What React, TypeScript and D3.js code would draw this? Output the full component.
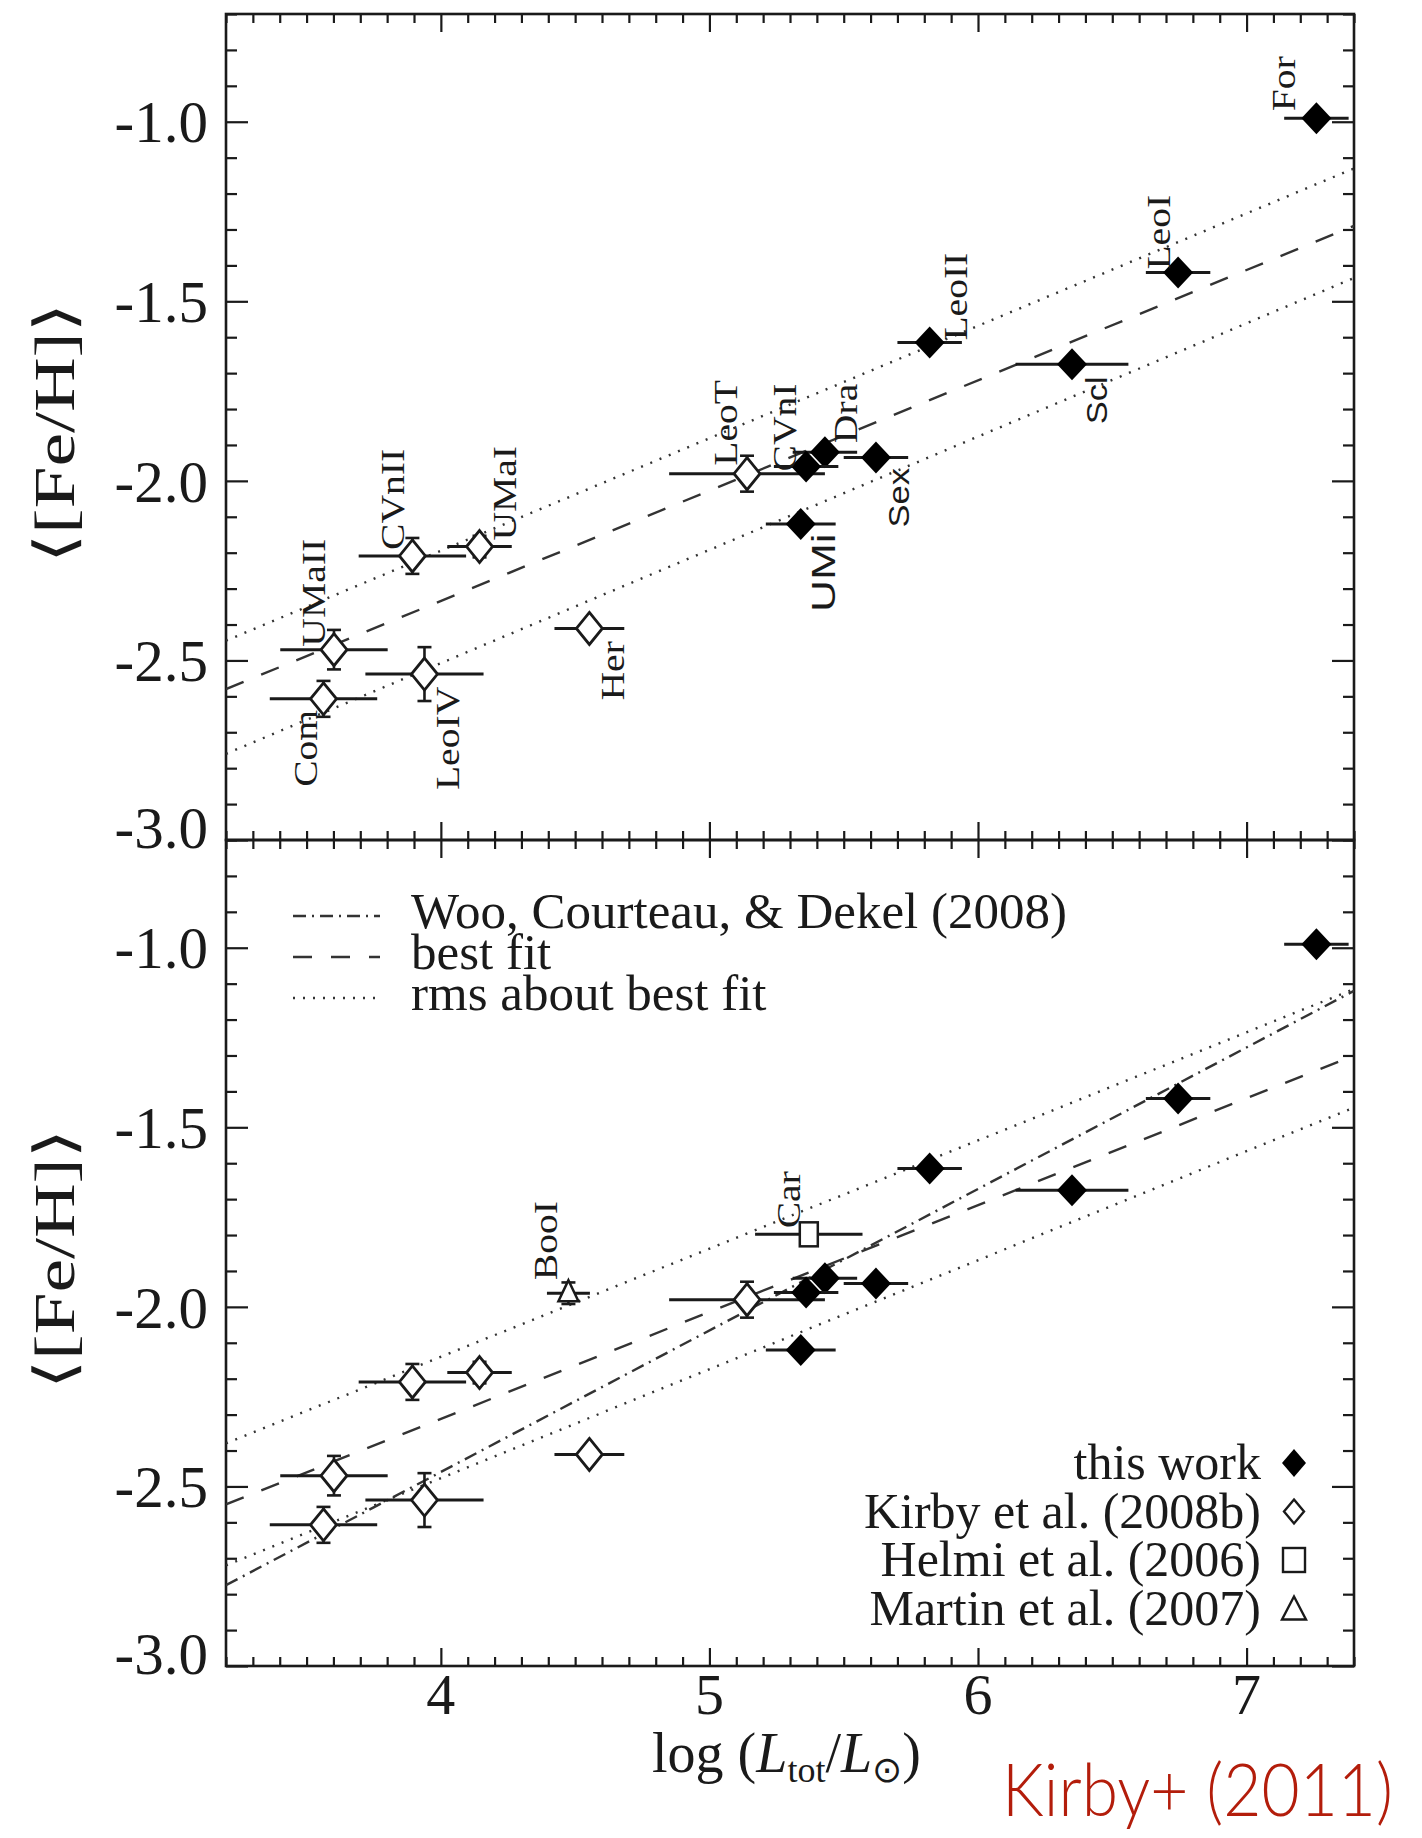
import React, { useEffect, useRef } from 'react';
import * as d3 from 'd3';

// this work (filled diamonds)
const workNames = ['For', 'LeoI', 'LeoII', 'Scl', 'Sex', 'Dra', 'CVnI', 'UMi'];
const workLogL = [7.26, 6.745, 5.82, 6.35, 5.62, 5.43, 5.36, 5.34];
const workFeH = [-0.99, -1.42, -1.615, -1.675, -1.935, -1.92, -1.96, -2.12];
const workErrL = [0.12, 0.12, 0.12, 0.21, 0.12, 0.12, 0.12, 0.13];
const workErrFeH = [0.01, 0.01, 0.01, 0.01, 0.01, 0.01, 0.01, 0.01];

// Kirby et al. (2008b) (open diamonds)
const k08Names = ['LeoT', 'UMaI', 'CVnII', 'Her', 'UMaII', 'LeoIV', 'Com'];
const k08LogL = [5.14, 4.144, 3.894, 4.553, 3.602, 3.939, 3.563];
const k08FeH = [-1.98, -2.183, -2.209, -2.411, -2.47, -2.538, -2.607];
const k08ErrL = [0.29, 0.12, 0.2, 0.13, 0.2, 0.22, 0.2];
const k08ErrFeH = [0.05, 0.03, 0.05, 0.02, 0.055, 0.075, 0.05];

// Helmi et al. (2006) (square) and Martin et al. (2007) (triangle)
const helmiNames = ['Car'];
const helmiLogL = [5.37];
const helmiFeH = [-1.798];
const helmiErrL = [0.2];
const helmiErrFeH = [0.02];
const martinNames = ['BooI'];
const martinLogL = [4.475];
const martinFeH = [-1.962];
const martinErrL = [0.08];
const martinErrFeH = [0.03];

// fit lines, evaluated at the plot edges
const fitLogL = [3.2, 7.4];
const topBestFit = [-2.58, -1.29];
const topRmsHigh = [-2.445, -1.13];
const topRmsLow = [-2.76, -1.435];
const botBestFit = [-2.55, -1.3];
const botRmsHigh = [-2.38, -1.115];
const botRmsLow = [-2.72, -1.445];
const wooFit = [-2.775, -1.12];

const xTickLabels = [4, 5, 6, 7];
const yTickLabels = [-3.0, -2.5, -2.0, -1.5, -1.0];

const lineLegend = ['Woo, Courteau, & Dekel (2008)', 'best fit', 'rms about best fit'];
const markLegend = ['this work', 'Kirby et al. (2008b)', 'Helmi et al. (2006)', 'Martin et al. (2007)'];

// label placement relative to the marker, pixels
const labelOffset: Record<string, number[]> = {
  For: [-21, -7], LeoI: [-8, -3], LeoII: [37, -2], Scl: [35, 60], Sex: [33, 70],
  Dra: [32, -9], CVnI: [-10, 5], UMi: [34, 88], LeoT: [-10, -8], UMaI: [36, -6],
  CVnII: [-8, -6], UMaII: [-9, -3], Com: [-6, 88], LeoIV: [35, 116], Her: [35, 72],
  BooI: [-11, -13], Car: [-9, -6],
};
// these three are set in a sans face in the figure: [font size, stretch along the text]
const sansStyle: Record<string, number[]> = { Sex: [30, 1.15], Scl: [30, 1.15], UMi: [34, 1.3] };

const SERIF = '"Liberation Serif", "Times New Roman", serif';
const INK = '#1a1a1a';
const LEFT = 226;
const RIGHT = 1354;

function diamond(cx: number, cy: number, w: number, h: number) {
  return `M${cx},${cy - h}L${cx + w},${cy}L${cx},${cy + h}L${cx - w},${cy}Z`;
}

export default function App() {
  const ref = useRef<SVGSVGElement>(null);

  useEffect(() => {
    const svg = d3.select(ref.current);
    svg.selectAll('*').remove();

    const x = d3.scaleLinear().domain([3.2, 7.4]).range([LEFT, RIGHT]);
    const panels = [
      { top: 14, bottom: 840, labels: true, lines: [topRmsHigh, topBestFit, topRmsLow], woo: false },
      { top: 840, bottom: 1666, labels: false, lines: [botRmsHigh, botBestFit, botRmsLow], woo: true },
    ];

    const xMinor = d3.range(32, 75).map((v) => v / 10).filter((v) => Math.abs(v - Math.round(v)) > 1e-6);
    const yMinor = d3.range(-30, -6).map((v) => v / 10).filter((v) => Math.abs(v * 2 - Math.round(v * 2)) > 1e-6);

    panels.forEach((p, pi) => {
      const y = d3.scaleLinear().domain([-3.0, -0.7]).range([p.bottom, p.top]);
      const g = svg.append('g');
      const clipId = `clip${pi}`;
      svg.append('clipPath').attr('id', clipId)
        .append('rect').attr('x', LEFT).attr('y', p.top).attr('width', RIGHT - LEFT).attr('height', p.bottom - p.top);

      // ticks on all four sides, pointing inward
      const addAxis = (axis: any, tf: string) => {
        g.append('g').attr('transform', tf).attr('stroke-width', 2.2).attr('color', INK)
          .call(axis)
          .call((a: any) => a.select('.domain').remove())
          .call((a: any) => a.selectAll('text').remove());
      };
      addAxis(d3.axisBottom(x).tickValues(xMinor).tickSizeInner(-9).tickSizeOuter(0), `translate(0,${p.bottom})`);
      addAxis(d3.axisBottom(x).tickValues(xTickLabels).tickSizeInner(-18).tickSizeOuter(0), `translate(0,${p.bottom})`);
      addAxis(d3.axisTop(x).tickValues(xMinor).tickSizeInner(-9).tickSizeOuter(0), `translate(0,${p.top})`);
      addAxis(d3.axisTop(x).tickValues(xTickLabels).tickSizeInner(-18).tickSizeOuter(0), `translate(0,${p.top})`);
      addAxis(d3.axisLeft(y).tickValues(yMinor).tickSizeInner(-11).tickSizeOuter(0), `translate(${LEFT},0)`);
      addAxis(d3.axisLeft(y).tickValues(yTickLabels).tickSizeInner(-22).tickSizeOuter(0), `translate(${LEFT},0)`);
      addAxis(d3.axisRight(y).tickValues(yMinor).tickSizeInner(-11).tickSizeOuter(0), `translate(${RIGHT},0)`);
      addAxis(d3.axisRight(y).tickValues(yTickLabels).tickSizeInner(-22).tickSizeOuter(0), `translate(${RIGHT},0)`);

      g.append('rect')
        .attr('x', LEFT).attr('y', p.top).attr('width', RIGHT - LEFT).attr('height', p.bottom - p.top)
        .attr('fill', 'none').attr('stroke', INK).attr('stroke-width', 2.6);

      // y tick labels
      g.selectAll('.ylab').data(yTickLabels).enter().append('text')
        .attr('x', 208)
        .attr('y', (d) => y(d) + (d === -3 ? -13 : 0))
        .attr('dy', '0.35em')
        .attr('text-anchor', 'end')
        .attr('font-family', SERIF).attr('font-size', 59).attr('fill', INK)
        .text((d) => d.toFixed(1));

      // y axis title
      g.append('text')
        .attr('transform', `translate(74,${(p.top + p.bottom) / 2 + 6}) rotate(-90) scale(1.35,1)`)
        .attr('text-anchor', 'middle')
        .attr('font-family', '"Liberation Serif", "DejaVu Serif", "DejaVu Sans", serif')
        .attr('font-size', 56).attr('fill', INK)
        .text('⟨[Fe/H]⟩');

      // fit lines
      const plot = g.append('g').attr('clip-path', `url(#${clipId})`);
      const line = d3.line<number>().x((_, i) => x(fitLogL[i])).y((d) => y(d));
      const styles = ['2,8', '19,19', '2,8'];
      p.lines.forEach((vals, i) => {
        plot.append('path').attr('d', line(vals)).attr('fill', 'none')
          .attr('stroke', '#333').attr('stroke-width', 2.4)
          .attr('stroke-dasharray', styles[i]);
      });
      if (p.woo) {
        plot.append('path').attr('d', line(wooFit)).attr('fill', 'none')
          .attr('stroke', '#333').attr('stroke-width', 2.4)
          .attr('stroke-dasharray', '13,6,2,6');
      }

      // error bars + markers
      const drawSet = (names: string[], xs: number[], ys: number[], exs: number[], eys: number[], kind: string) => {
        names.forEach((name, i) => {
          const cx = x(xs[i]);
          const cy = y(ys[i]);
          plot.append('line')
            .attr('x1', x(xs[i] - exs[i])).attr('x2', x(xs[i] + exs[i]))
            .attr('y1', cy).attr('y2', cy)
            .attr('stroke', INK).attr('stroke-width', 3);
          const y1 = y(ys[i] + eys[i]);
          const y2 = y(ys[i] - eys[i]);
          plot.append('line').attr('x1', cx).attr('x2', cx).attr('y1', y1).attr('y2', y2)
            .attr('stroke', INK).attr('stroke-width', 2.6);
          if (eys[i] > 0.015) {
            [y1, y2].forEach((yy) => {
              plot.append('line').attr('x1', cx - 7).attr('x2', cx + 7).attr('y1', yy).attr('y2', yy)
                .attr('stroke', INK).attr('stroke-width', 2.6);
            });
          }
          if (kind === 'filled') {
            plot.append('path').attr('d', diamond(cx, cy, 15, 16)).attr('fill', '#000');
          } else if (kind === 'open') {
            plot.append('path').attr('d', diamond(cx, cy, 13, 16)).attr('fill', '#fff')
              .attr('stroke', INK).attr('stroke-width', 2.8);
          } else if (kind === 'square') {
            plot.append('rect').attr('x', cx - 9).attr('y', cy - 12).attr('width', 18).attr('height', 24)
              .attr('fill', '#fff').attr('stroke', INK).attr('stroke-width', 2.5);
          } else {
            plot.append('path').attr('d', `M${cx},${cy - 13}L${cx + 10},${cy + 8}L${cx - 10},${cy + 8}Z`)
              .attr('fill', '#fff').attr('stroke', INK).attr('stroke-width', 2.5);
          }
          const showLabel = p.labels ? (kind === 'filled' || kind === 'open') : (kind === 'square' || kind === 'tri');
          if (showLabel) {
            const off = labelOffset[name];
            const sans = sansStyle[name];
            g.append('text')
              .attr('transform', `translate(${cx + off[0]},${cy + off[1]}) rotate(-90) scale(${sans ? sans[1] : 1.2},1)`)
              .attr('font-family', sans ? '"Liberation Sans", Arial, sans-serif' : SERIF)
              .attr('font-size', sans ? sans[0] : 33).attr('fill', INK)
              .text(name);
          }
        });
      };
      if (!p.labels) {
        drawSet(helmiNames, helmiLogL, helmiFeH, helmiErrL, helmiErrFeH, 'square');
        drawSet(martinNames, martinLogL, martinFeH, martinErrL, martinErrFeH, 'tri');
      }
      drawSet(k08Names, k08LogL, k08FeH, k08ErrL, k08ErrFeH, 'open');
      drawSet(workNames, workLogL, workFeH, workErrL, workErrFeH, 'filled');
    });

    // x tick labels and title
    svg.selectAll('.xlab').data(xTickLabels).enter().append('text')
      .attr('x', (d) => x(d)).attr('y', 1714)
      .attr('text-anchor', 'middle')
      .attr('font-family', SERIF).attr('font-size', 58).attr('fill', INK)
      .text((d) => d);

    const xt = svg.append('text').attr('x', 652).attr('y', 1772)
      .attr('font-family', '"Liberation Serif", "DejaVu Serif", serif').attr('font-size', 56).attr('fill', INK);
    xt.append('tspan').text('log (');
    xt.append('tspan').attr('font-style', 'italic').text('L');
    xt.append('tspan').attr('font-size', 36).attr('dy', 10).text('tot');
    xt.append('tspan').attr('dy', -10).text('/');
    xt.append('tspan').attr('font-style', 'italic').text('L');
    xt.append('tspan').attr('font-size', 36).attr('dy', 10).attr('font-family', '"DejaVu Sans", sans-serif').text('⊙');
    xt.append('tspan').attr('dy', -10).text(')');

    // line legend (lower panel, upper left)
    const lstyles = ['13,6,2,6', '19,19', '2,8'];
    lineLegend.forEach((t, i) => {
      const base = 928 + i * 41;
      svg.append('line').attr('x1', 293).attr('x2', 380).attr('y1', base - 12).attr('y2', base - 12)
        .attr('stroke', '#333').attr('stroke-width', 2.4).attr('stroke-dasharray', lstyles[i]);
      svg.append('text').attr('x', 411).attr('y', base)
        .attr('font-family', SERIF).attr('font-size', 51).attr('fill', INK).text(t);
    });

    // symbol legend (lower panel, lower right)
    markLegend.forEach((t, i) => {
      const base = 1479 + i * 48.5;
      svg.append('text').attr('x', 1261).attr('y', base).attr('text-anchor', 'end')
        .attr('font-family', SERIF).attr('font-size', 50).attr('fill', INK).text(t);
      const cx = 1294;
      const cy = base - 16;
      if (i === 0) svg.append('path').attr('d', diamond(cx, cy, 12, 14)).attr('fill', '#000');
      if (i === 1) svg.append('path').attr('d', diamond(cx, cy, 10, 12)).attr('fill', '#fff').attr('stroke', INK).attr('stroke-width', 2.4);
      if (i === 2) svg.append('rect').attr('x', cx - 11).attr('y', cy - 12).attr('width', 22).attr('height', 24)
        .attr('fill', '#fff').attr('stroke', INK).attr('stroke-width', 2.4);
      if (i === 3) svg.append('path').attr('d', `M${cx},${cy - 12}L${cx + 12},${cy + 11}L${cx - 12},${cy + 11}Z`)
        .attr('fill', '#fff').attr('stroke', INK).attr('stroke-width', 2.4);
    });

    // credit
    svg.append('text').attr('x', 1002).attr('y', 1816)
      .attr('font-family', 'Lato, "Open Sans", sans-serif').attr('font-weight', 300)
      .attr('font-size', 72).attr('fill', '#b31d0b')
      .attr('textLength', 391).attr('lengthAdjust', 'spacingAndGlyphs')
      .text('Kirby+ (2011)');
  }, []);

  return (
    <svg
      ref={ref}
      width={1422}
      height={1838}
      style={{ position: 'absolute', left: 0, top: 0, background: '#fff' }}
    />
  );
}
